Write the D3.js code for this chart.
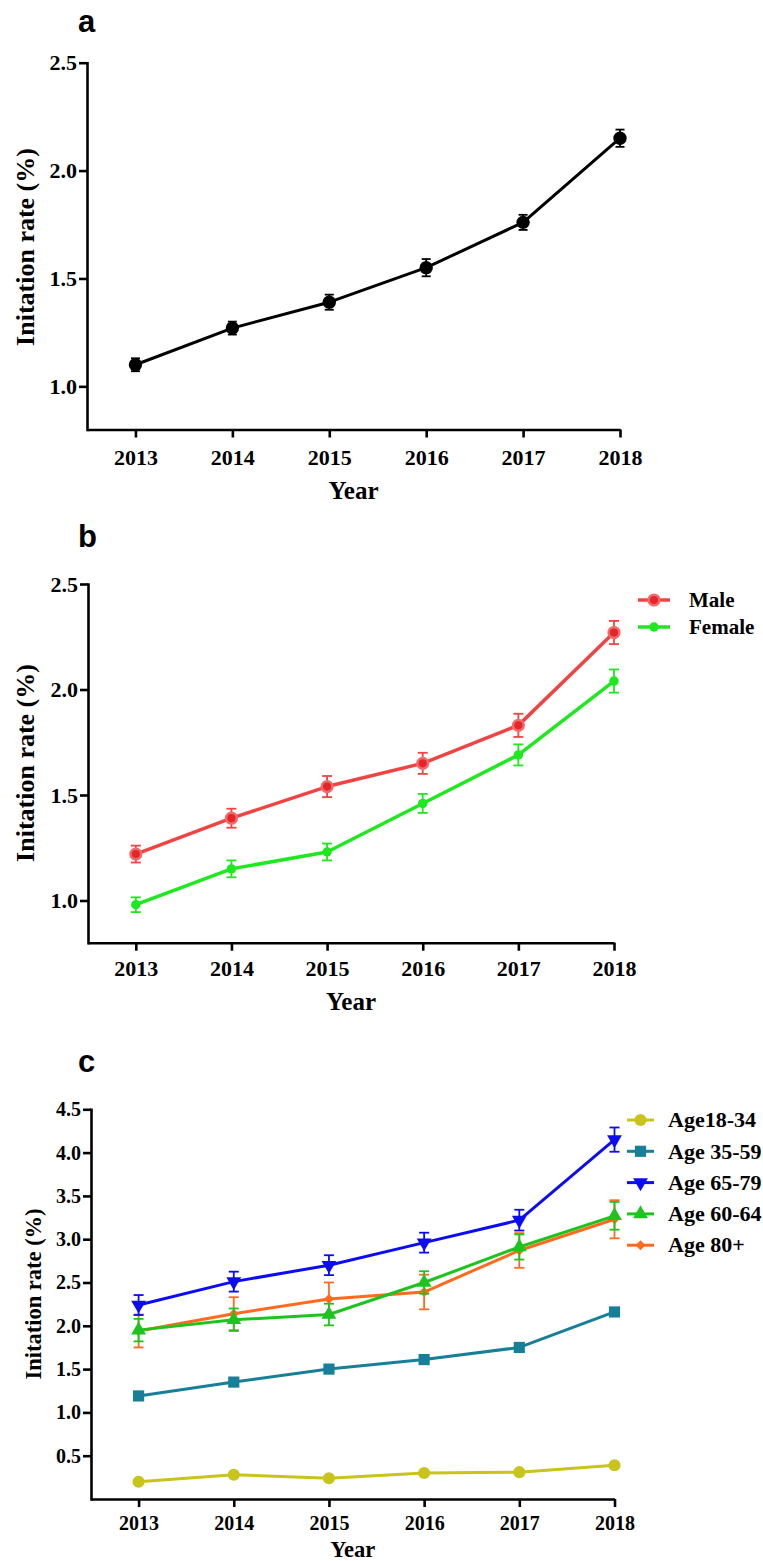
<!DOCTYPE html>
<html>
<head>
<meta charset="utf-8">
<script src="https://cdn.jsdelivr.net/npm/d3@7"></script>
<style>
  body { margin: 0; background: #fff; }
  svg { display: block; }
</style>
</head>
<body>
<script>
// data
const years = [2013, 2014, 2015, 2016, 2017, 2018];

const overallRate = [1.10, 1.27, 1.39, 1.55, 1.76, 2.15];
const overallErr  = [0.03, 0.03, 0.035, 0.04, 0.035, 0.04];

const maleRate   = [1.22, 1.39, 1.54, 1.65, 1.83, 2.27];
const maleErr    = [0.04, 0.045, 0.05, 0.05, 0.055, 0.055];
const femaleRate = [0.98, 1.15, 1.23, 1.46, 1.69, 2.04];
const femaleErr  = [0.035, 0.04, 0.04, 0.045, 0.05, 0.055];

const age18to34 = [0.20, 0.28, 0.24, 0.30, 0.31, 0.39];
const age35to59 = [1.19, 1.35, 1.50, 1.61, 1.75, 2.16];
const age65to79 = [2.24, 2.51, 2.70, 2.96, 3.22, 4.15];
const age65to79Err = [0.115, 0.115, 0.115, 0.115, 0.12, 0.14];
const age60to64 = [1.95, 2.07, 2.13, 2.50, 2.91, 3.27];
const age60to64Err = [0.13, 0.13, 0.125, 0.13, 0.145, 0.16];
const age80plus = [1.94, 2.14, 2.31, 2.39, 2.87, 3.23];
const age80plusErr = [0.19, 0.19, 0.19, 0.20, 0.20, 0.22];

const yTicksAB = [1.0, 1.5, 2.0, 2.5];
const yTicksC = [0.5, 1.0, 1.5, 2.0, 2.5, 3.0, 3.5, 4.0, 4.5];

const SERIF = '"Liberation Serif", "Times New Roman", serif';

const svg = d3.select('body').append('svg')
  .attr('width', 763)
  .attr('height', 1561);

const fmt = d3.format('.1f');

function serifText(sel, size) {
  return sel.style('font-family', SERIF)
    .style('font-weight', 'bold')
    .style('font-size', size + 'px')
    .attr('fill', '#000');
}

function drawPanel(p) {
  const g = svg.append('g');
  const x = d3.scaleLinear().domain([2012.5, 2018]).range(p.xRange);
  const y = d3.scaleLinear().domain(p.yDomain).range(p.yRange);

  // panel letter
  g.append('text')
    .attr('x', 78).attr('y', p.letterY)
    .style('font-family', '"Liberation Sans", Arial, sans-serif')
    .style('font-weight', 'bold')
    .style('font-size', '31px')
    .text(p.letter);

  // axes
  const xAxis = g.append('g')
    .attr('transform', `translate(0,${p.yRange[0]})`)
    .call(d3.axisBottom(x).tickValues(years).tickFormat(d3.format('d'))
      .tickSize(8).tickSizeOuter(0));
  xAxis.selectAll('text')
    .attr('y', p.xLabelGap)
    .attr('dy', '0.71em');

  const yAxis = g.append('g')
    .attr('transform', `translate(${p.xRange[0]},0)`)
    .call(d3.axisLeft(y).tickValues(p.yTicks).tickFormat(fmt)
      .tickSize(8).tickPadding(2).tickSizeOuter(0));

  [xAxis, yAxis].forEach(a => {
    a.attr('font-family', null).attr('font-size', null);
    a.selectAll('path, line').attr('stroke', '#000').attr('stroke-width', 2.6);
    serifText(a.selectAll('text'), p.tickFont);
  });
  yAxis.select('.domain').attr('stroke-linecap', 'square');

  // axis titles
  serifText(g.append('text'), p.titleFont)
    .attr('transform', `translate(${p.yTitleX},${p.yTitleY}) rotate(-90)`)
    .attr('text-anchor', 'middle')
    .text('Initation rate (%)');

  serifText(g.append('text'), p.xTitleFont)
    .attr('x', (p.xRange[0] + p.xRange[1]) / 2)
    .attr('y', p.xTitleY)
    .attr('text-anchor', 'middle')
    .text('Year');

  const line = d3.line().x((d, i) => x(years[i])).y(d => y(d));

  p.series.forEach(s => {
    const sg = g.append('g');
    if (s.err) {
      const eb = sg.selectAll('.eb').data(s.values).enter().append('g')
        .attr('stroke', s.color).attr('stroke-width', 1.8);
      eb.append('line')
        .attr('x1', (d, i) => x(years[i])).attr('x2', (d, i) => x(years[i]))
        .attr('y1', (d, i) => y(d - s.err[i])).attr('y2', (d, i) => y(d + s.err[i]));
      [-1, 1].forEach(sign => {
        eb.append('line')
          .attr('x1', (d, i) => x(years[i]) - p.cap).attr('x2', (d, i) => x(years[i]) + p.cap)
          .attr('y1', (d, i) => y(d + sign * s.err[i])).attr('y2', (d, i) => y(d + sign * s.err[i]));
      });
    }
    sg.append('path')
      .datum(s.values)
      .attr('d', line)
      .attr('fill', 'none')
      .attr('stroke', s.color)
      .attr('stroke-width', p.lineWidth)
      .attr('stroke-linejoin', 'round');
    sg.selectAll('.mk').data(s.values).enter().append('path')
      .attr('d', d3.symbol().type(s.symbol).size(s.size))
      .attr('transform', (d, i) => `translate(${x(years[i])},${y(d)}) rotate(${s.rotate || 0})`)
      .attr('fill', s.fill || s.color)
      .attr('stroke', s.stroke || 'none')
      .attr('stroke-width', s.strokeWidth || 0);
  });

  // legend
  if (p.legend) {
    const L = p.legend;
    p.series.slice().sort((a, b) => a.legendOrder - b.legendOrder).forEach((s, k) => {
      const ly = L.y0 + k * L.step;
      const lg = g.append('g');
      lg.append('line')
        .attr('x1', L.x0).attr('x2', L.x1)
        .attr('y1', ly).attr('y2', ly)
        .attr('stroke', s.color).attr('stroke-width', p.lineWidth);
      lg.append('path')
        .attr('d', d3.symbol().type(s.symbol).size(s.size))
        .attr('transform', `translate(${(L.x0 + L.x1) / 2},${ly}) rotate(${s.rotate || 0})`)
        .attr('fill', s.fill || s.color)
        .attr('stroke', s.stroke || 'none')
        .attr('stroke-width', s.strokeWidth || 0);
      serifText(lg.append('text'), L.font)
        .attr('x', L.tx).attr('y', ly)
        .attr('dy', '0.33em')
        .text(s.name);
    });
  }
}

// panel a
drawPanel({
  letter: 'a', letterY: 32,
  xRange: [87, 620], yDomain: [0.8, 2.5], yRange: [429.5, 62.7],
  yTicks: yTicksAB, tickFont: 22, xLabelGap: 20,
  yTitleX: 34, yTitleY: 247, titleFont: 26,
  xTitleY: 499, xTitleFont: 25,
  lineWidth: 3, cap: 4.5,
  series: [
    { name: 'All', values: overallRate, err: overallErr, color: '#000',
      symbol: d3.symbolCircle, size: 140 }
  ]
});

// panel b
drawPanel({
  letter: 'b', letterY: 547,
  xRange: [88, 614], yDomain: [0.8, 2.5], yRange: [942.7, 584],
  yTicks: yTicksAB, tickFont: 22, xLabelGap: 18,
  yTitleX: 34, yTitleY: 763, titleFont: 26,
  xTitleY: 1010, xTitleFont: 25,
  lineWidth: 3.5, cap: 5,
  series: [
    { name: 'Male', values: maleRate, err: maleErr, color: '#f04444', legendOrder: 0,
      symbol: d3.symbolCircle, size: 90, fill: '#e3262a', stroke: '#f46a6a', strokeWidth: 2.5 },
    { name: 'Female', values: femaleRate, err: femaleErr, color: '#1ee81e', legendOrder: 1,
      symbol: d3.symbolCircle, size: 70 }
  ],
  legend: { x0: 638, x1: 670, tx: 689, y0: 600, step: 27, font: 21 }
});

// panel c
drawPanel({
  letter: 'c', letterY: 1072,
  xRange: [91, 614.5], yDomain: [0, 4.5], yRange: [1499, 1109.3],
  yTicks: yTicksC, tickFont: 20, xLabelGap: 16.5,
  yTitleX: 41, yTitleY: 1294, titleFont: 22.5,
  xTitleY: 1557, xTitleFont: 22.5,
  lineWidth: 3, cap: 5,
  series: [
    { name: 'Age18-34', values: age18to34, color: '#c8c41c', legendOrder: 0,
      symbol: d3.symbolCircle, size: 115 },
    { name: 'Age 35-59', values: age35to59, color: '#187f98', legendOrder: 1,
      symbol: d3.symbolSquare, size: 125 },
    { name: 'Age 80+', values: age80plus, err: age80plusErr, color: '#ff6a1e', legendOrder: 4,
      symbol: d3.symbolSquare, size: 50, rotate: 45 },
    { name: 'Age 60-64', values: age60to64, err: age60to64Err, color: '#1ec41e', legendOrder: 3,
      symbol: d3.symbolTriangle, size: 95 },
    { name: 'Age 65-79', values: age65to79, err: age65to79Err, color: '#0c0cf2', legendOrder: 2,
      symbol: d3.symbolTriangle, size: 95, rotate: 180 }
  ],
  legend: { x0: 627, x1: 654, tx: 668, y0: 1120, step: 31.3, font: 22 }
});
</script>
</body>
</html>
